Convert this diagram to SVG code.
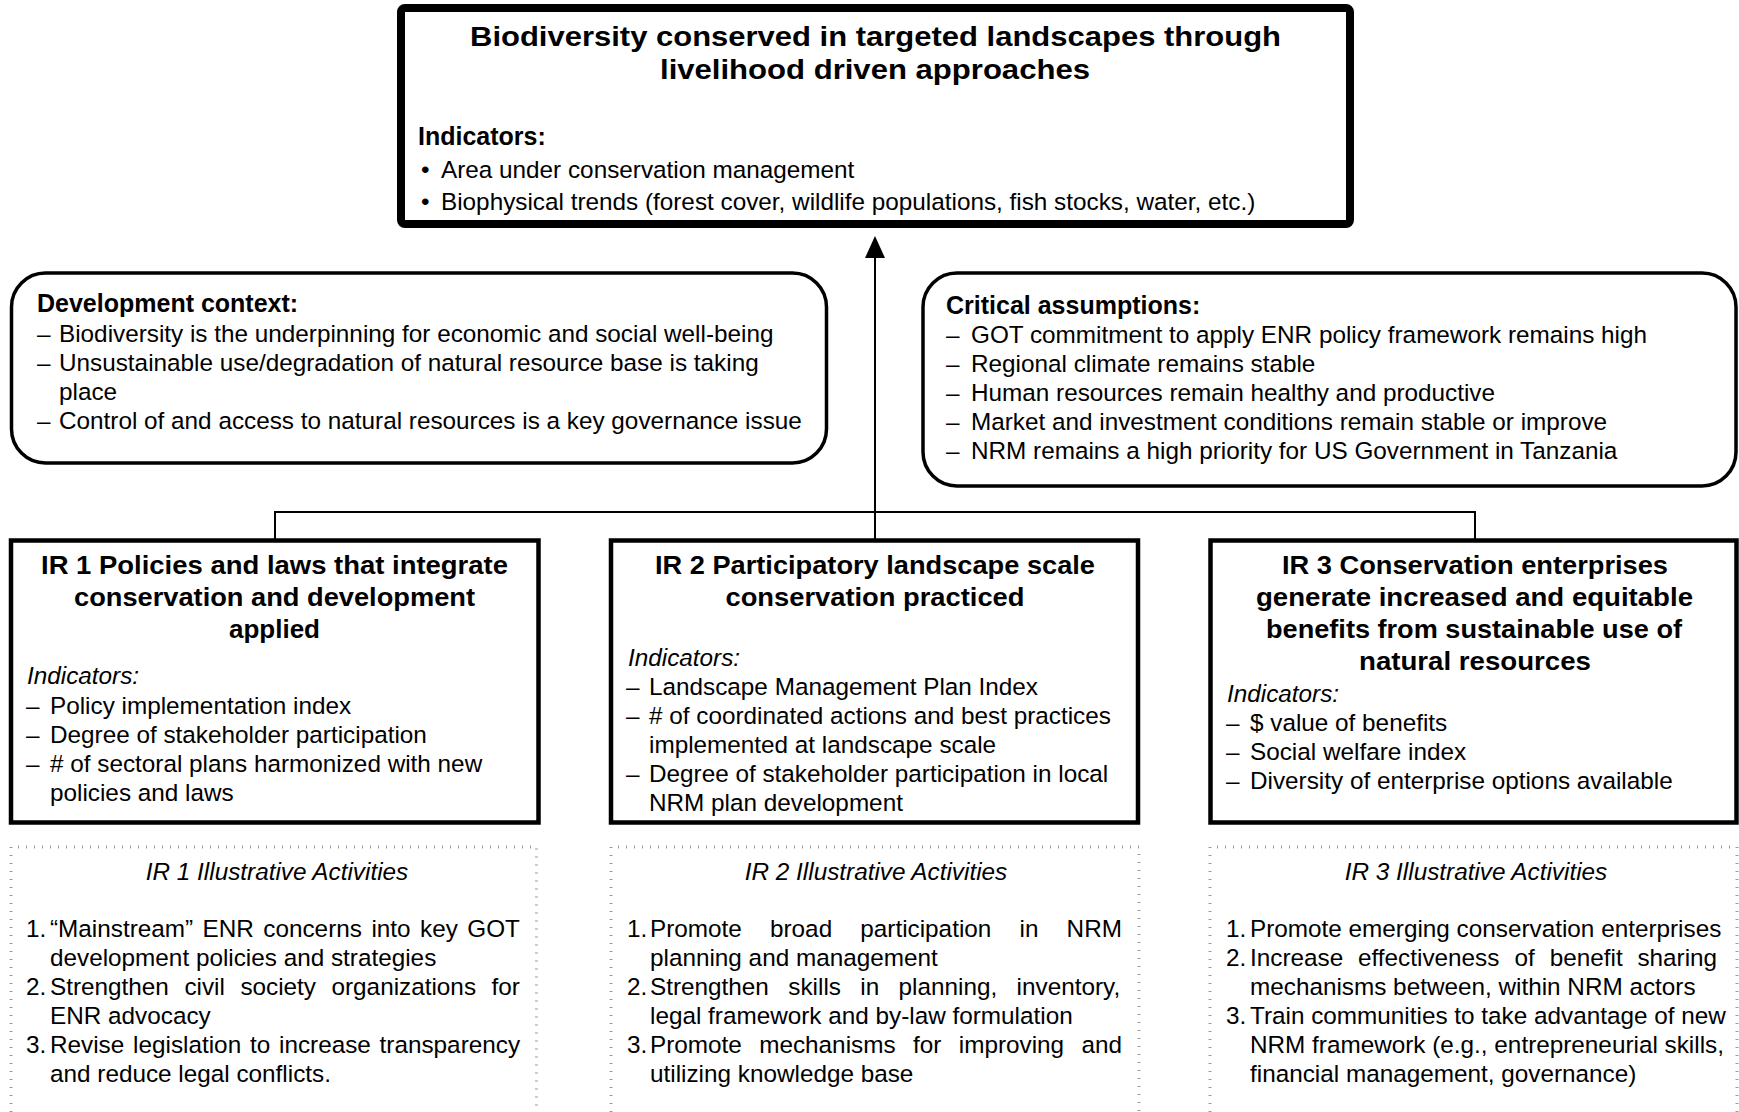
<svg xmlns="http://www.w3.org/2000/svg" width="1739" height="1112" viewBox="0 0 1739 1112">
<defs>
<style>
text{font-family:'Liberation Sans',Arial,sans-serif;font-size:24.3px;fill:#000}
.b{font-weight:bold;font-size:25px}
.tt{font-weight:bold;font-size:27px}
.h{font-weight:bold;font-size:25px}
.i{font-style:italic}
.c{text-anchor:middle}
.main{fill:#fff;stroke:#000;stroke-width:8}
.ir{fill:#fff;stroke:#000;stroke-width:4.5}
.rnd{fill:#fff;stroke:#000;stroke-width:3.5}
.dot{fill:none;stroke:#9b9b9b;stroke-width:3;stroke-dasharray:1 7}
.ln{fill:none;stroke:#000;stroke-width:2}
</style>
<marker id="ah" viewBox="0 0 22 20" refX="12" refY="10" markerWidth="22" markerHeight="20" markerUnits="userSpaceOnUse" orient="auto">
<path d="M0,0 L22,10 L0,20 z" fill="#000"/>
</marker>
</defs>
<rect width="1739" height="1112" fill="#fff"/>

<g id="connectors">
<path class="ln" d="M275,540 V512 H1475 V540"/>
<line class="ln" x1="875" y1="540" x2="875" y2="246" marker-end="url(#ah)"/>
</g>

<g id="goal">
<rect class="main" x="401" y="8" width="949" height="216" rx="4"/>
<text class="tt" x="470" y="46" textLength="811" lengthAdjust="spacingAndGlyphs">Biodiversity conserved in targeted landscapes through</text>
<text class="tt" x="660" y="79" textLength="430" lengthAdjust="spacingAndGlyphs">livelihood driven approaches</text>
<text class="b" x="418" y="145">Indicators:</text>
<text x="421" y="178">•</text><text x="441" y="178">Area under conservation management</text>
<text x="421" y="210">•</text><text x="441" y="210">Biophysical trends (forest cover, wildlife populations, fish stocks, water, etc.)</text>
</g>

<g id="development-context">
<rect class="rnd" x="11.5" y="273" width="815" height="190" rx="34"/>
<text class="h" x="37" y="312">Development context:</text>
<text x="37" y="342">–</text><text x="59" y="342">Biodiversity is the underpinning for economic and social well-being</text>
<text x="37" y="371">–</text><text x="59" y="371">Unsustainable use/degradation of natural resource base is taking</text>
<text x="59" y="400">place</text>
<text x="37" y="429">–</text><text x="59" y="429">Control of and access to natural resources is a key governance issue</text>
</g>

<g id="critical-assumptions">
<rect class="rnd" x="923" y="273" width="813" height="213" rx="34"/>
<text class="h" x="946" y="314">Critical assumptions:</text>
<text x="946" y="343">–</text><text x="971" y="343">GOT commitment to apply ENR policy framework remains high</text>
<text x="946" y="372">–</text><text x="971" y="372">Regional climate remains stable</text>
<text x="946" y="401">–</text><text x="971" y="401">Human resources remain healthy and productive</text>
<text x="946" y="430">–</text><text x="971" y="430">Market and investment conditions remain stable or improve</text>
<text x="946" y="459">–</text><text x="971" y="459">NRM remains a high priority for US Government in Tanzania</text>
</g>

<g id="ir1">
<rect class="ir" x="11" y="540.5" width="527.5" height="282"/>
<text class="h" x="41" y="574" textLength="467" lengthAdjust="spacingAndGlyphs">IR 1 Policies and laws that integrate</text>
<text class="h" x="74" y="606" textLength="401" lengthAdjust="spacingAndGlyphs">conservation and development</text>
<text class="h" x="229" y="638" textLength="91" lengthAdjust="spacingAndGlyphs">applied</text>
<text class="i" x="27" y="684">Indicators:</text>
<text x="26" y="714">–</text><text x="50" y="714">Policy implementation index</text>
<text x="26" y="743">–</text><text x="50" y="743">Degree of stakeholder participation</text>
<text x="26" y="772">–</text><text x="50" y="772"># of sectoral plans harmonized with new</text>
<text x="50" y="801">policies and laws</text>
</g>

<g id="ir2">
<rect class="ir" x="611" y="540.5" width="527" height="282"/>
<text class="h" x="655" y="574" textLength="440" lengthAdjust="spacingAndGlyphs">IR 2 Participatory landscape scale</text>
<text class="h" x="725.5" y="606" textLength="299" lengthAdjust="spacingAndGlyphs">conservation practiced</text>
<text class="i" x="628" y="666">Indicators:</text>
<text x="626" y="695">–</text><text x="649" y="695">Landscape Management Plan Index</text>
<text x="626" y="724">–</text><text x="649" y="724"># of coordinated actions and best practices</text>
<text x="649" y="753">implemented at landscape scale</text>
<text x="626" y="782">–</text><text x="649" y="782">Degree of stakeholder participation in local</text>
<text x="649" y="811">NRM plan development</text>
</g>

<g id="ir3">
<rect class="ir" x="1210.5" y="540.5" width="526" height="282"/>
<text class="h" x="1282" y="574" textLength="386" lengthAdjust="spacingAndGlyphs">IR 3 Conservation enterprises</text>
<text class="h" x="1256" y="606" textLength="437" lengthAdjust="spacingAndGlyphs">generate increased and equitable</text>
<text class="h" x="1266" y="638" textLength="416" lengthAdjust="spacingAndGlyphs">benefits from sustainable use of</text>
<text class="h" x="1359" y="670" textLength="232" lengthAdjust="spacingAndGlyphs">natural resources</text>
<text class="i" x="1227" y="702">Indicators:</text>
<text x="1226" y="731">–</text><text x="1250" y="731">$ value of benefits</text>
<text x="1226" y="760">–</text><text x="1250" y="760">Social welfare index</text>
<text x="1226" y="789">–</text><text x="1250" y="789">Diversity of enterprise options available</text>
</g>

<g id="ir1-activities">
<path class="dot" d="M11,1112 V847 H536.5 V1112"/>
<text class="i c" x="277" y="880">IR 1 Illustrative Activities</text>
<text x="26" y="937">1.</text>
<text y="937"><tspan x="50">“Mainstream”</tspan><tspan x="202.6">ENR</tspan><tspan x="263.3">concerns</tspan><tspan x="371.4">into</tspan><tspan x="420.1">key</tspan><tspan x="467.3">GOT</tspan></text>
<text x="50" y="966">development policies and strategies</text>
<text x="26" y="995">2.</text>
<text y="995"><tspan x="50">Strengthen</tspan><tspan x="184.4">civil</tspan><tspan x="240.4">society</tspan><tspan x="331.5">organizations</tspan><tspan x="491.5">for</tspan></text>
<text x="50" y="1024">ENR advocacy</text>
<text x="26" y="1053">3.</text>
<text y="1053"><tspan x="50">Revise</tspan><tspan x="133.1">legislation</tspan><tspan x="249.9">to</tspan><tspan x="279">increase</tspan><tspan x="379.6">transparency</tspan></text>
<text x="50" y="1082">and reduce legal conflicts.</text>
</g>

<g id="ir2-activities">
<path class="dot" d="M611,1112 V847 H1139 V1112"/>
<text class="i c" x="876" y="880">IR 2 Illustrative Activities</text>
<text x="627" y="937">1.</text>
<text y="937"><tspan x="650">Promote</tspan><tspan x="770">broad</tspan><tspan x="860.3">participation</tspan><tspan x="1019.5">in</tspan><tspan x="1066.6">NRM</tspan></text>
<text x="650" y="966">planning and management</text>
<text x="627" y="995">2.</text>
<text y="995"><tspan x="650">Strengthen</tspan><tspan x="788.3">skills</tspan><tspan x="860.3">in</tspan><tspan x="898.6">planning,</tspan><tspan x="1016.6">inventory,</tspan></text>
<text x="650" y="1024">legal framework and by-law formulation</text>
<text x="627" y="1053">3.</text>
<text y="1053"><tspan x="650">Promote</tspan><tspan x="759.2">mechanisms</tspan><tspan x="913">for</tspan><tspan x="958.8">improving</tspan><tspan x="1081.5">and</tspan></text>
<text x="650" y="1082">utilizing knowledge base</text>
</g>

<g id="ir3-activities">
<path class="dot" d="M1210,1112 V847 H1737 V1112"/>
<text class="i c" x="1476" y="880">IR 3 Illustrative Activities</text>
<text x="1226" y="937">1.</text><text x="1250" y="937">Promote emerging conservation enterprises</text>
<text x="1226" y="966">2.</text>
<text y="966"><tspan x="1250">Increase</tspan><tspan x="1358">effectiveness</tspan><tspan x="1514.6">of</tspan><tspan x="1549.7">benefit</tspan><tspan x="1637.4">sharing</tspan></text>
<text x="1250" y="995">mechanisms between, within NRM actors</text>
<text x="1226" y="1024">3.</text><text x="1250" y="1024">Train communities to take advantage of new</text>
<text x="1250" y="1053">NRM framework (e.g., entrepreneurial skills,</text>
<text x="1250" y="1082">financial management, governance)</text>
</g>
</svg>
